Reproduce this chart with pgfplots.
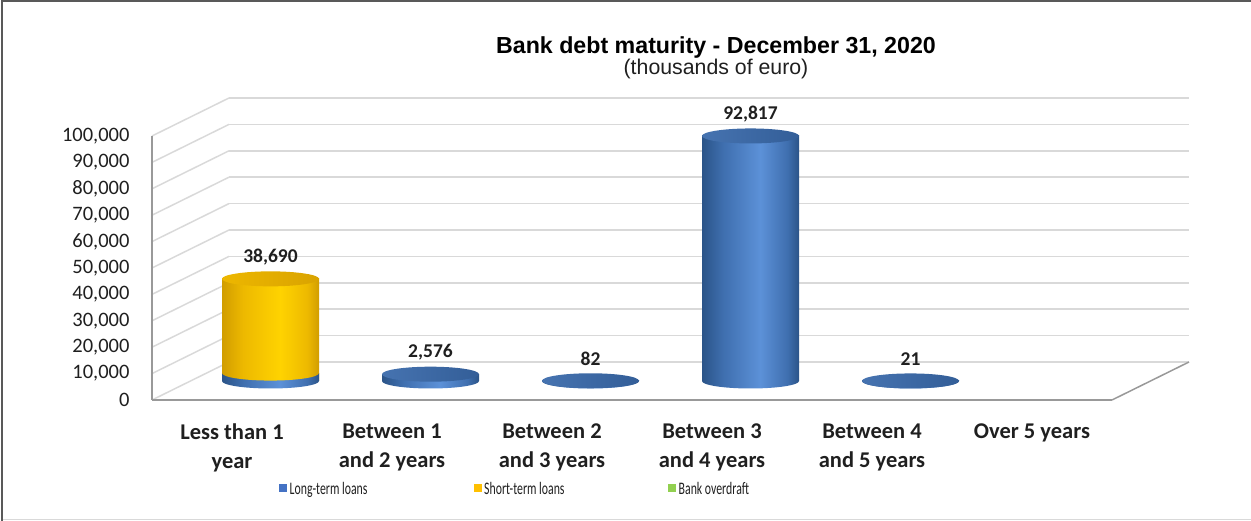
\documentclass[border=0pt]{standalone}
\usepackage{pgfplots}
\pgfplotsset{compat=1.18}
\usepackage{graphicx}
\usepackage{fontspec}
\setmainfont{Carlito}
\newfontfamily\arialfont{Liberation Sans}

\definecolor{tc}{HTML}{1F1F1F}
\definecolor{gridc}{HTML}{D9D9D9}
\definecolor{axc}{HTML}{999999}
\definecolor{bd}{HTML}{2B5488}
\definecolor{bm}{HTML}{3F6FAF}
\definecolor{bl}{HTML}{5C91D8}
\definecolor{bc1}{HTML}{4673B0}
\definecolor{bc2}{HTML}{335E98}
\definecolor{yd}{HTML}{D19D00}
\definecolor{ym}{HTML}{EDB900}
\definecolor{yl}{HTML}{FFD300}
\definecolor{yc1}{HTML}{EDB700}
\definecolor{yc2}{HTML}{D9A300}
\definecolor{legblue}{HTML}{4472C4}
\definecolor{legyellow}{HTML}{FFC000}
\definecolor{leggreen}{HTML}{92D050}

\pgfdeclarehorizontalshading{bluecyl}{100bp}{color(0bp)=(bd); color(25bp)=(bd); color(36bp)=(bm); color(55bp)=(bl); color(69bp)=(bm); color(75bp)=(bd); color(100bp)=(bd)}
\pgfdeclarehorizontalshading{yellowcyl}{100bp}{color(0bp)=(yd); color(25bp)=(yd); color(36bp)=(ym); color(55bp)=(yl); color(69bp)=(ym); color(75bp)=(yd); color(100bp)=(yd)}
\pgfdeclarehorizontalshading{bluecap}{100bp}{color(0bp)=(bc1); color(25bp)=(bc1); color(75bp)=(bc2); color(100bp)=(bc2)}
\pgfdeclarehorizontalshading{yellowcap}{100bp}{color(0bp)=(yc1); color(25bp)=(yc1); color(75bp)=(yc2); color(100bp)=(yc2)}

\pgfdeclareplotmark{bluebase}{%
  \pgfpathmoveto{\pgfqpoint{-48.5pt}{0pt}}%
  \pgfpatharc{180}{360}{48.5pt and 7.5pt}%
  \pgfpathclose
  \pgfshadepath{bluecyl}{0}%
  \pgfusepath{}}
\pgfdeclareplotmark{yellowbase}{%
  \pgfpathmoveto{\pgfqpoint{-48.5pt}{0pt}}%
  \pgfpatharc{180}{360}{48.5pt and 7.5pt}%
  \pgfpathclose
  \pgfshadepath{yellowcyl}{0}%
  \pgfusepath{}}
\pgfdeclareplotmark{bluetop}{%
  \pgfpathellipse{\pgfpointorigin}{\pgfqpoint{48.5pt}{0pt}}{\pgfqpoint{0pt}{7.5pt}}%
  \pgfshadepath{bluecap}{0}%
  \pgfusepath{}}
\pgfdeclareplotmark{yellowtop}{%
  \pgfpathellipse{\pgfpointorigin}{\pgfqpoint{48.5pt}{0pt}}{\pgfqpoint{0pt}{7.5pt}}%
  \pgfshadepath{yellowcap}{0}%
  \pgfusepath{}}

\pgfplotsset{
  cyl/.style={ybar, bar width=97pt, bar shift=0pt, draw=none, shading angle=0, forget plot},
}
\newcommand{\legtext}[2]{\makebox[#1][l]{\scalebox{0.67}[1]{\fontsize{17.6}{19}\selectfont #2}}}

\begin{document}
\begin{tikzpicture}
\useasboundingbox (0pt,0pt) rectangle (1251pt,521pt);
% frame
\draw[color=gridc, line width=1.2pt] (2pt,1.5pt) -- (1251pt,1.5pt);
\draw[color=black!65, line width=2.5pt] (1251pt,520pt) -- (1.8pt,520pt) -- (1.8pt,0pt);

% back wall grid
\begin{axis}[
  at={(229pt,159pt)}, anchor=south west,
  scale only axis, width=960pt, height=264pt,
  xmin=-0.5, xmax=5.5, ymin=0, ymax=100000,
  axis line style={draw=none}, tick style={draw=none},
  scaled y ticks=false,
  xtick=\empty, ytick={0,10000,20000,30000,40000,50000,60000,70000,80000,90000,100000},
  yticklabels={}, ymajorgrids, grid style={color=gridc, line width=1.5pt},
  clip=false,
]
\pgfplotsinvokeforeach{0,10000,20000,30000,40000,50000,60000,70000,80000,90000,100000}{
  \draw[color=gridc, line width=1.5pt] (axis cs:-0.5,#1) -- ++(-77pt,-38pt);
}
\end{axis}

% front plane: axes, labels, legend
\begin{axis}[
  at={(152pt,121pt)}, anchor=south west,
  scale only axis, width=960pt, height=264pt,
  xmin=-0.5, xmax=5.5, ymin=0, ymax=100000,
  axis lines=left, axis line style={-, draw=axc, line width=1.5pt},
  major tick length=0pt,
  xtick={0,1,2,3,4,5},
  xticklabels={{Less than 1\\year},{Between 1\\and 2 years},{Between 2\\and 3 years},{Between 3\\and 4 years},{Between 4\\and 5 years},{Over 5 years}},
  xticklabel style={align=center, anchor=north, yshift=-20pt, text=tc, font=\bfseries\fontsize{22.5}{29}\selectfont},
  ytick={0,10000,20000,30000,40000,50000,60000,70000,80000,90000,100000},
  scaled y ticks=false,
  yticklabel style={anchor=east, xshift=-19pt, text=tc, font=\fontsize{20.5}{22}\selectfont, /pgf/number format/.cd, fixed, 1000 sep={,}, assume math mode=true},
  clip=false,
  legend columns=3,
  legend cell align=left,
  legend image code/.code={\fill[#1] (0pt,-4pt) rectangle (8pt,4pt);},
  legend style={at={(0.1323,-0.3333)}, anchor=west, draw=none, fill=none, inner sep=0pt,
    nodes={inner sep=0pt, text depth=0pt}, text=tc,
    /tikz/every odd column/.append style={column sep=2.5pt}},
]
\draw[color=axc, line width=1.5pt] (axis cs:5.5,0) -- ++(77pt,38pt);
\addlegendimage{fill=legblue, draw=none}
\addlegendentry{\legtext{184pt}{Long-term loans}}
\addlegendimage{fill=legyellow, draw=none}
\addlegendentry{\legtext{184pt}{Short-term loans}}
\addlegendimage{fill=leggreen, draw=none}
\addlegendentry{\legtext{80pt}{Bank overdraft}}
\end{axis}

% mid-depth plane: cylinders
\begin{axis}[
  at={(190.5pt,140pt)}, anchor=south west,
  scale only axis, width=960pt, height=264pt,
  xmin=-0.5, xmax=5.5, ymin=0, ymax=100000,
  hide axis, clip=false,
]
% short-term loans (stacked on long-term loans in first category)
\addplot[cyl, shading=yellowcyl] coordinates {(0,38690)};
% long-term loans bodies
\addplot[cyl, shading=bluecyl] coordinates {(0,3000)};
\addplot[cyl, shading=bluecyl] coordinates {(1,2576)};
\addplot[cyl, shading=bluecyl] coordinates {(2,82)};
\addplot[cyl, shading=bluecyl] coordinates {(3,92817)};
\addplot[cyl, shading=bluecyl] coordinates {(4,21)};
% bases
\addplot[only marks, mark=bluebase, forget plot] coordinates {(0,0) (1,0) (2,0) (3,0) (4,0)};
\addplot[only marks, mark=yellowbase, forget plot] coordinates {(0,3000)};
% tops
\addplot[only marks, mark=bluetop, forget plot] coordinates {(1,2576) (2,82) (3,92817) (4,21)};
\addplot[only marks, mark=yellowtop, forget plot] coordinates {(0,38690)};
% data labels
\addplot[draw=none, mark=none, forget plot, nodes near coords, point meta=explicit symbolic,
  every node near coord/.style={font=\bfseries\fontsize{19.5}{21}\selectfont, text=tc, anchor=center, yshift=22pt}]
  coordinates {(0,38690) [38,690] (1,2576) [2,576] (2,82) [82] (3,92817) [92,817] (4,21) [21]};
\end{axis}

% titles
\node[anchor=base, text=black, font=\arialfont\bfseries\fontsize{23.2}{26}\selectfont] at (716pt,467pt) {Bank debt maturity - December 31, 2020};
\node[anchor=base, text=tc, font=\arialfont\fontsize{21.3}{24}\selectfont] at (716pt,446pt) {(thousands of euro)};
\end{tikzpicture}
\end{document}
